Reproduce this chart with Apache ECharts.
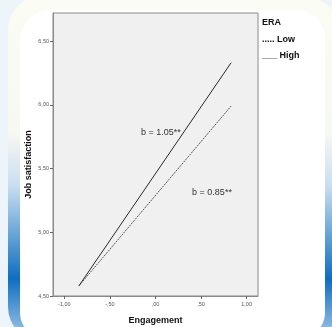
<!DOCTYPE html>
<html>
<head>
<meta charset="utf-8">
<script src="https://cdn.jsdelivr.net/npm/echarts@6/dist/echarts.min.js"></script>
<style>
  html, body { margin: 0; padding: 0; background: #eef5fa; }
  #chart { width: 332px; height: 327px; }
</style>
</head>
<body>
<div id="chart"></div>
<script>
const xTicks = [-1, -0.5, 0, 0.5, 1];
const xTickLabels = ["-1,00", "-,50", ",00", ",50", "1,00"];
const yTicks = [4.5, 5, 5.5, 6, 6.5];
const yTickLabels = ["4,50", "5,00", "5,50", "6,00", "6,50"];

// predicted job satisfaction at low / high engagement
const lowEra = [[-0.84, 4.58], [0.83, 5.99]];
const highEra = [[-0.84, 4.58], [0.83, 6.33]];

const slopeNotes = [
  { text: "b = 1.05**", coord: [0.06, 5.78] },
  { text: "b = 0.85**", coord: [0.62, 5.31] },
];

const FONT = "Liberation Sans, Arial, sans-serif";

const chart = echarts.init(document.getElementById("chart"), null, { renderer: "canvas" });

function tickLabel(ticks, labels) {
  return (v) => {
    const i = ticks.findIndex((t) => Math.abs(t - v) < 1e-9);
    return i >= 0 ? labels[i] : "";
  };
}

function note(n) {
  return {
    symbol: "circle",
    symbolSize: 1,
    itemStyle: { color: "rgba(0,0,0,0)" },
    label: {
      show: true, position: "inside", formatter: "{b}",
      fontFamily: FONT, fontSize: 9, color: "#333",
    },
    data: [{ name: n.text, coord: n.coord }],
  };
}

chart.setOption({
  animation: false,
  backgroundColor: "#eef5fa",
  graphic: [
    {
      type: "rect",
      z: -10,
      silent: true,
      shape: { x: 8, y: -4, width: 330, height: 345, r: 34 },
      style: {
        fill: new echarts.graphic.LinearGradient(0, 0, 0, 1, [
          { offset: 0, color: "#fbfcf3" },
          { offset: 0.4, color: "#f6f8f2" },
          { offset: 0.55, color: "#c9def0" },
          { offset: 0.82, color: "#0d6fc0" },
          { offset: 1, color: "#a9cdea" },
        ]),
      },
    },
    {
      type: "rect",
      z: -9,
      silent: true,
      shape: { x: 20, y: 10, width: 305, height: 327, r: [30, 28, 24, 24] },
      style: { fill: "#ffffff" },
    },
    {
      type: "text", left: 262, top: 18,
      style: { text: "ERA", font: "bold 9px " + FONT, fill: "#111" },
    },
    {
      type: "text", left: 262, top: 35,
      style: { text: "..... Low", font: "bold 9px " + FONT, fill: "#111" },
    },
    {
      type: "text", left: 262, top: 51,
      style: { text: "___ High", font: "bold 9px " + FONT, fill: "#111" },
    },
  ],
  grid: {
    left: 53,
    right: 74,
    top: 13,
    bottom: 31,
    show: true,
    backgroundColor: "#f0f0f0",
    borderColor: "#8a8a8a",
    borderWidth: 1,
    outerBoundsMode: "none",
  },
  xAxis: {
    type: "value",
    min: -1.125,
    max: 1.125,
    name: "Engagement",
    nameLocation: "middle",
    nameGap: 20,
    nameMoveOverlap: false,
    nameTextStyle: { fontFamily: FONT, fontWeight: "bold", fontSize: 9, color: "#111" },
    splitLine: { show: false },
    axisLine: { onZero: false, lineStyle: { color: "#8a8a8a" } },
    axisTick: { customValues: xTicks, length: 3, lineStyle: { color: "#666" } },
    axisLabel: {
      customValues: xTicks,
      formatter: tickLabel(xTicks, xTickLabels),
      fontFamily: FONT, fontSize: 5.5, color: "#555", margin: 5,
    },
  },
  yAxis: {
    type: "value",
    min: 4.5,
    max: 6.72,
    name: "Job satisfaction",
    nameLocation: "middle",
    nameGap: 20,
    nameMoveOverlap: false,
    nameTextStyle: {
      fontFamily: FONT, fontWeight: "bold", fontSize: 9, color: "#111",
      padding: [0, 20, 0, 0],
    },
    splitLine: { show: false },
    axisLine: { onZero: false, lineStyle: { color: "#8a8a8a" } },
    axisTick: { customValues: yTicks, length: 3, lineStyle: { color: "#666" } },
    axisLabel: {
      customValues: yTicks,
      formatter: tickLabel(yTicks, yTickLabels),
      fontFamily: FONT, fontSize: 5.5, color: "#555", margin: 4,
    },
  },
  series: [
    {
      name: "Low",
      type: "line",
      data: lowEra,
      symbol: "none",
      lineStyle: { color: "#555", width: 1, type: [2, 1] },
      markPoint: note(slopeNotes[1]),
    },
    {
      name: "High",
      type: "line",
      data: highEra,
      symbol: "none",
      lineStyle: { color: "#2a2a2a", width: 1 },
      markPoint: note(slopeNotes[0]),
    },
  ],
});
</script>
</body>
</html>
